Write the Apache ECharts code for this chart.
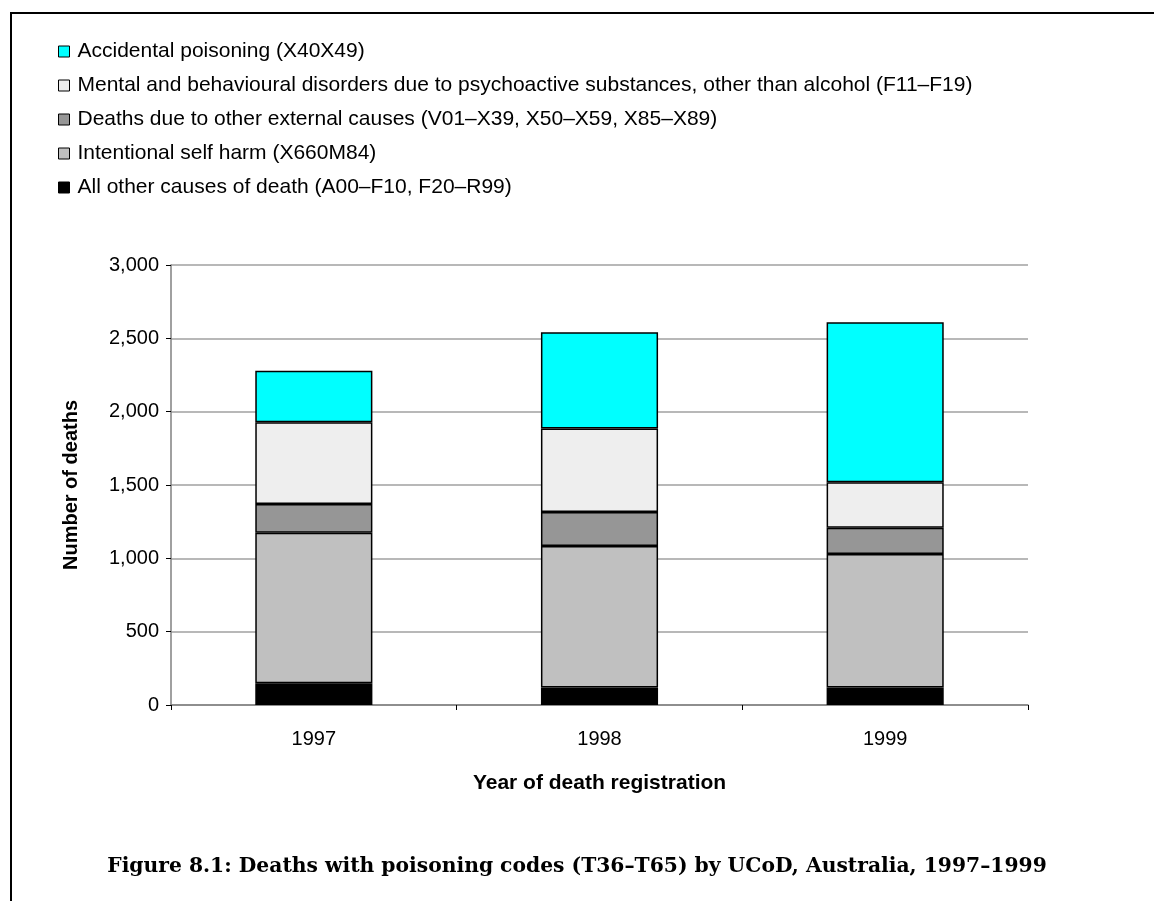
<!DOCTYPE html>
<html>
<head>
<meta charset="utf-8">
<script src="https://cdn.jsdelivr.net/npm/echarts@6/dist/echarts.min.js"></script>
<style>
  html, body { margin: 0; padding: 0; background: #fff; }
  #chart { width: 1154px; height: 901px; }
</style>
</head>
<body>
<div id="chart"></div>
<script>
// Years of death registration
const years = ['1997', '1998', '1999'];

// Deaths by underlying cause, stacked bottom to top
const allOtherCauses   = [148, 120, 120];
const selfHarm         = [1027, 964, 910];
const otherExternal    = [195, 232, 179];
const mentalDisorders  = [557, 570, 309];
const accidentalPoison = [352, 655, 1091];

const yTicks = { min: 0, max: 3000, interval: 500 };

const names = {
  acc: 'Accidental poisoning (X40X49)',
  mental: 'Mental and behavioural disorders due to psychoactive substances, other than alcohol (F11\u2013F19)',
  ext: 'Deaths due to other external causes (V01\u2013X39, X50\u2013X59, X85\u2013X89)',
  self: 'Intentional self harm (X660M84)',
  other: 'All other causes of death (A00\u2013F10, F20\u2013R99)'
};

const font = 'Liberation Sans, Arial, sans-serif';

function bar(name, data, color) {
  return {
    name: name,
    type: 'bar',
    stack: 'total',
    data: data,
    barWidth: '41%',
    itemStyle: { color: color, borderColor: '#000', borderWidth: 1.5 },
    emphasis: { disabled: true }
  };
}

const chart = echarts.init(document.getElementById('chart'), null, { renderer: 'canvas' });

chart.setOption({
  animation: false,
  backgroundColor: '#fff',
  legend: {
    orient: 'vertical',
    left: 53,
    top: 36,
    itemWidth: 11,
    itemHeight: 11,
    itemGap: 13,
    icon: 'rect',
    selectedMode: false,
    itemStyle: { borderColor: '#000', borderWidth: 1 },
    textStyle: { fontFamily: font, fontSize: 21, color: '#000', padding: [0, 0, 0, 3] },
    data: [names.acc, names.mental, names.ext, names.self, names.other]
  },
  grid: { left: 171, right: 126, top: 265, bottom: 196, containLabel: false },
  xAxis: {
    type: 'category',
    data: years,
    name: 'Year of death registration',
    nameLocation: 'middle',
    nameGap: 68,
    nameTextStyle: { fontFamily: font, fontSize: 21, fontWeight: 'bold', color: '#000' },
    axisLine: { lineStyle: { color: '#808080', width: 1.5 } },
    axisTick: { show: true, length: 5, lineStyle: { color: '#000' } },
    axisLabel: { fontFamily: font, fontSize: 20, color: '#000', margin: 24 },
    splitLine: { show: false }
  },
  yAxis: {
    type: 'value',
    min: yTicks.min,
    max: yTicks.max,
    interval: yTicks.interval,
    name: 'Number of deaths',
    nameLocation: 'middle',
    nameGap: 90,
    nameTextStyle: { fontFamily: font, fontSize: 20, fontWeight: 'bold', color: '#000' },
    axisLine: { show: true, lineStyle: { color: '#808080', width: 1.5 } },
    axisTick: { show: true, length: 5, lineStyle: { color: '#000' } },
    axisLabel: {
      fontFamily: font, fontSize: 20, color: '#000', margin: 12,
      formatter: v => v.toLocaleString('en-US')
    },
    splitLine: { show: true, lineStyle: { color: '#a0a0a0', width: 1.5 } }
  },
  series: [
    bar(names.other, allOtherCauses, '#000000'),
    bar(names.self, selfHarm, '#c0c0c0'),
    bar(names.ext, otherExternal, '#969696'),
    bar(names.mental, mentalDisorders, '#eeeeee'),
    bar(names.acc, accidentalPoison, '#00ffff')
  ],
  graphic: [
    {
      type: 'rect',
      shape: { x: 11, y: 13, width: 1160, height: 920 },
      style: { fill: 'none', stroke: '#000', lineWidth: 2 },
      silent: true
    },
    {
      type: 'text',
      left: 'center',
      top: 857,
      style: {
        text: 'Figure 8.1: Deaths with poisoning codes (T36\u2013T65) by UCoD, Australia, 1997\u20131999',
        fontFamily: 'DejaVu Serif, serif',
        fontWeight: 'bold',
        fontSize: 20.3,
        fill: '#000'
      }
    }
  ]
});
</script>
</body>
</html>
